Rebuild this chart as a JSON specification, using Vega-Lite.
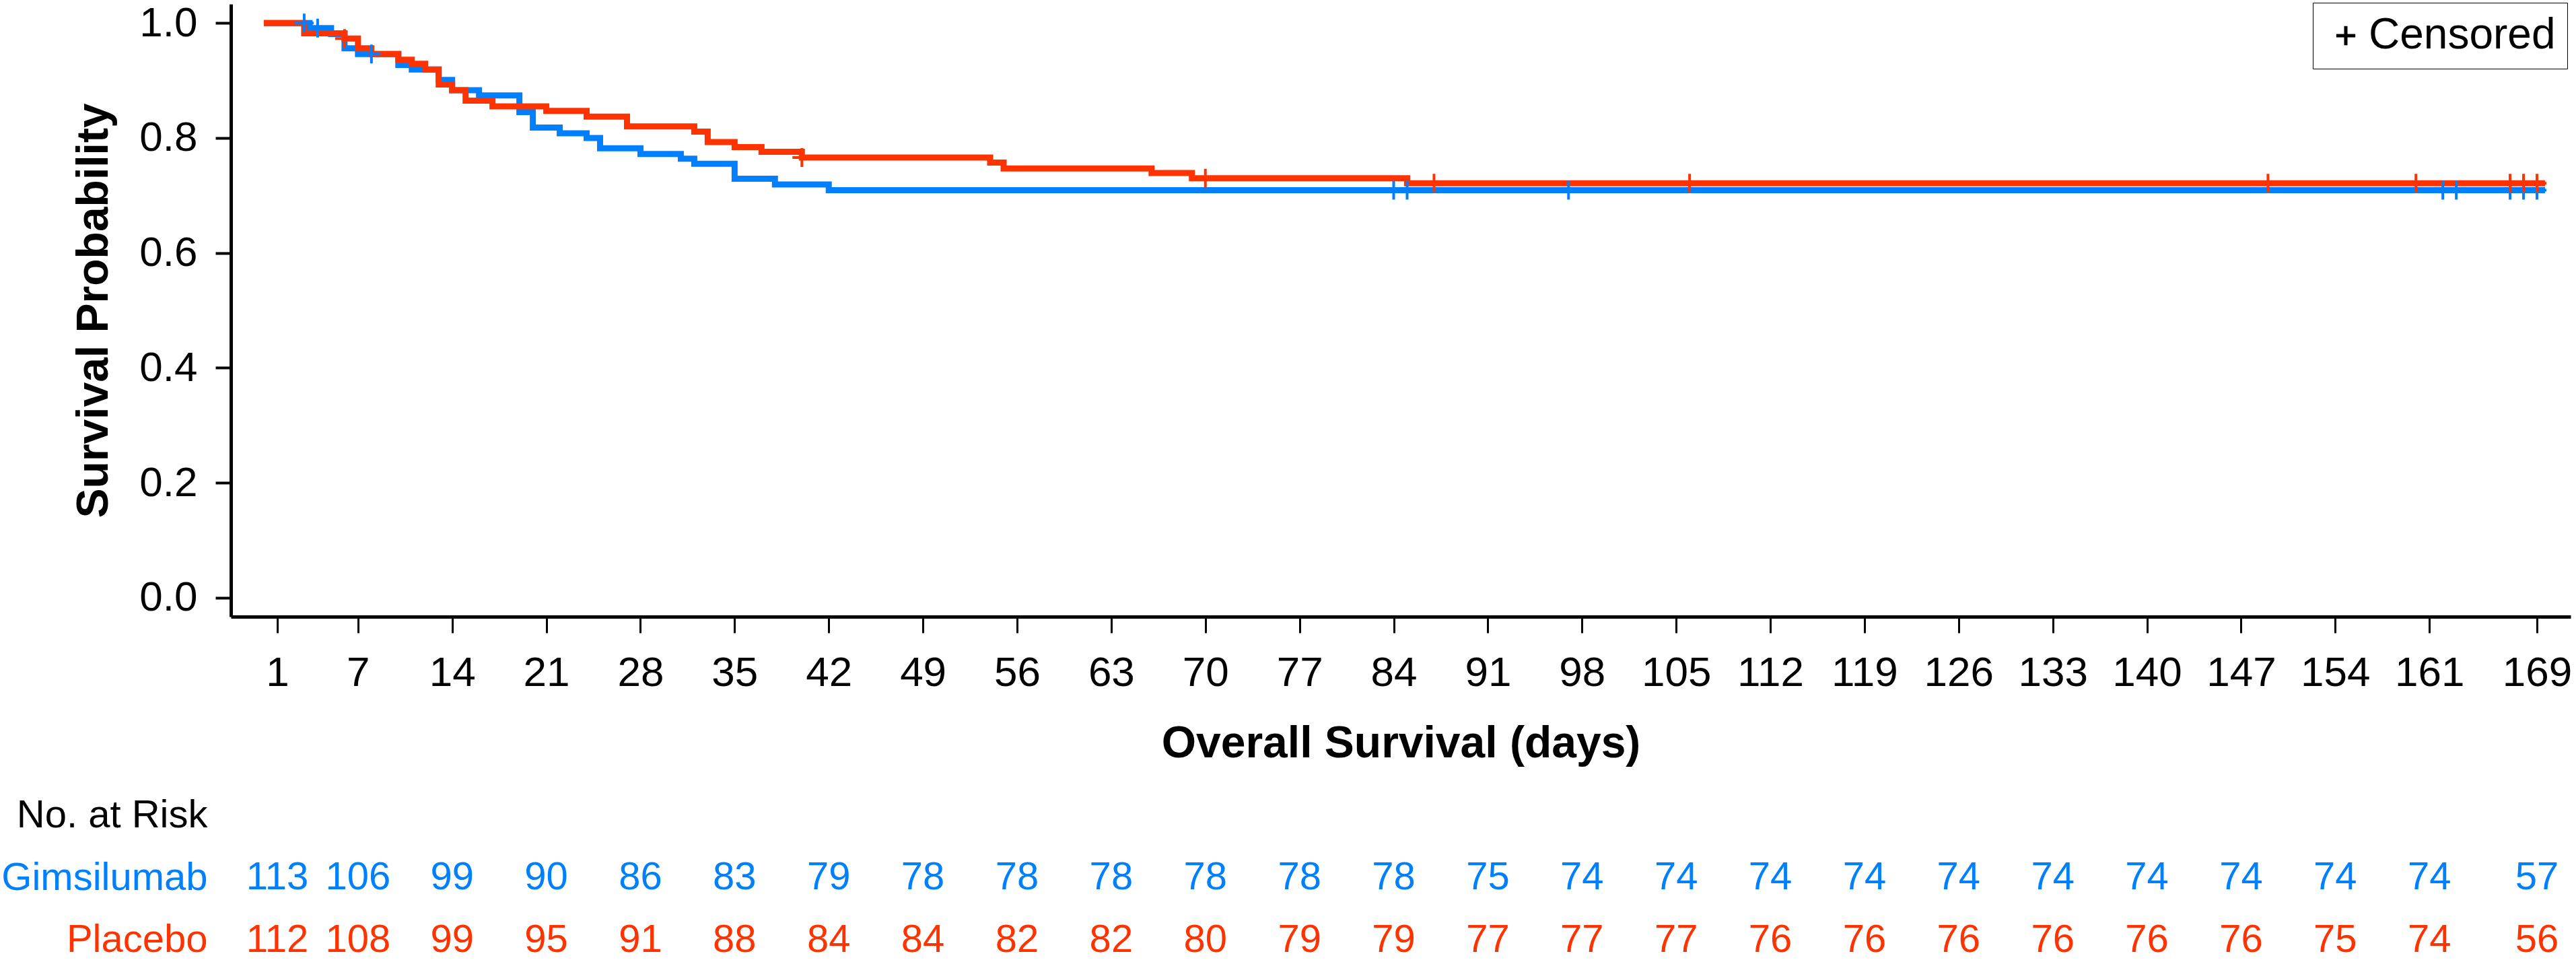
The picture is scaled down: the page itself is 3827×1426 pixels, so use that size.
{
  "$schema": "https://vega.github.io/schema/vega-lite/v6.json",
  "padding": {"left": 1, "top": 3, "right": 0, "bottom": 0},
  "background": "white",
  "spacing": 45,
  "config": {
    "view": {"stroke": null},
    "font": "Liberation Sans",
    "axis": {"grid": false, "domainColor": "black", "tickColor": "black", "labelColor": "black", "titleColor": "black", "labelFont": "Liberation Sans", "titleFont": "Liberation Sans", "labelLimit": 600}
  },
  "datasets": {
    "curves": [
      {"group": "Gimsilumab", "day": 0, "surv": 1.0},
      {"group": "Gimsilumab", "day": 3.4, "surv": 0.991},
      {"group": "Gimsilumab", "day": 5, "surv": 0.981},
      {"group": "Gimsilumab", "day": 6, "surv": 0.956},
      {"group": "Gimsilumab", "day": 7, "surv": 0.946},
      {"group": "Gimsilumab", "day": 10, "surv": 0.927},
      {"group": "Gimsilumab", "day": 11, "surv": 0.919},
      {"group": "Gimsilumab", "day": 13, "surv": 0.901},
      {"group": "Gimsilumab", "day": 14, "surv": 0.883},
      {"group": "Gimsilumab", "day": 16, "surv": 0.874},
      {"group": "Gimsilumab", "day": 19, "surv": 0.845},
      {"group": "Gimsilumab", "day": 20, "surv": 0.818},
      {"group": "Gimsilumab", "day": 22, "surv": 0.808},
      {"group": "Gimsilumab", "day": 24, "surv": 0.8},
      {"group": "Gimsilumab", "day": 25, "surv": 0.782},
      {"group": "Gimsilumab", "day": 28, "surv": 0.772},
      {"group": "Gimsilumab", "day": 31, "surv": 0.764},
      {"group": "Gimsilumab", "day": 32, "surv": 0.755},
      {"group": "Gimsilumab", "day": 35, "surv": 0.729},
      {"group": "Gimsilumab", "day": 38, "surv": 0.719},
      {"group": "Gimsilumab", "day": 42, "surv": 0.709},
      {"group": "Gimsilumab", "day": 169.6, "surv": 0.709},
      {"group": "Placebo", "day": 0, "surv": 1.0},
      {"group": "Placebo", "day": 3, "surv": 0.982},
      {"group": "Placebo", "day": 6, "surv": 0.973},
      {"group": "Placebo", "day": 7, "surv": 0.956},
      {"group": "Placebo", "day": 8, "surv": 0.946},
      {"group": "Placebo", "day": 10, "surv": 0.936},
      {"group": "Placebo", "day": 11, "surv": 0.929},
      {"group": "Placebo", "day": 12, "surv": 0.919},
      {"group": "Placebo", "day": 13, "surv": 0.893},
      {"group": "Placebo", "day": 14, "surv": 0.883},
      {"group": "Placebo", "day": 15, "surv": 0.865},
      {"group": "Placebo", "day": 17, "surv": 0.855},
      {"group": "Placebo", "day": 21, "surv": 0.847},
      {"group": "Placebo", "day": 24, "surv": 0.837},
      {"group": "Placebo", "day": 27, "surv": 0.82},
      {"group": "Placebo", "day": 32, "surv": 0.811},
      {"group": "Placebo", "day": 33, "surv": 0.793},
      {"group": "Placebo", "day": 35, "surv": 0.784},
      {"group": "Placebo", "day": 37, "surv": 0.776},
      {"group": "Placebo", "day": 40, "surv": 0.766},
      {"group": "Placebo", "day": 54, "surv": 0.757},
      {"group": "Placebo", "day": 55, "surv": 0.747},
      {"group": "Placebo", "day": 66, "surv": 0.739},
      {"group": "Placebo", "day": 69, "surv": 0.73},
      {"group": "Placebo", "day": 85, "surv": 0.721},
      {"group": "Placebo", "day": 169.6, "surv": 0.721}
    ],
    "censor": [
      {"group": "Gimsilumab", "day": 3, "surv": 1.0},
      {"group": "Gimsilumab", "day": 4, "surv": 0.991},
      {"group": "Gimsilumab", "day": 8, "surv": 0.946},
      {"group": "Gimsilumab", "day": 84, "surv": 0.709},
      {"group": "Gimsilumab", "day": 85, "surv": 0.709},
      {"group": "Gimsilumab", "day": 97, "surv": 0.709},
      {"group": "Gimsilumab", "day": 162, "surv": 0.709},
      {"group": "Gimsilumab", "day": 163, "surv": 0.709},
      {"group": "Gimsilumab", "day": 167, "surv": 0.709},
      {"group": "Gimsilumab", "day": 168, "surv": 0.709},
      {"group": "Gimsilumab", "day": 169, "surv": 0.709},
      {"group": "Placebo", "day": 6, "surv": 0.973},
      {"group": "Placebo", "day": 40, "surv": 0.766},
      {"group": "Placebo", "day": 70, "surv": 0.73},
      {"group": "Placebo", "day": 87, "surv": 0.721},
      {"group": "Placebo", "day": 106, "surv": 0.721},
      {"group": "Placebo", "day": 149, "surv": 0.721},
      {"group": "Placebo", "day": 160, "surv": 0.721},
      {"group": "Placebo", "day": 167, "surv": 0.721},
      {"group": "Placebo", "day": 168, "surv": 0.721},
      {"group": "Placebo", "day": 169, "surv": 0.721}
    ],
    "risk": [
      {"group": "Gimsilumab", "day": 1, "n": 113},
      {"group": "Gimsilumab", "day": 7, "n": 106},
      {"group": "Gimsilumab", "day": 14, "n": 99},
      {"group": "Gimsilumab", "day": 21, "n": 90},
      {"group": "Gimsilumab", "day": 28, "n": 86},
      {"group": "Gimsilumab", "day": 35, "n": 83},
      {"group": "Gimsilumab", "day": 42, "n": 79},
      {"group": "Gimsilumab", "day": 49, "n": 78},
      {"group": "Gimsilumab", "day": 56, "n": 78},
      {"group": "Gimsilumab", "day": 63, "n": 78},
      {"group": "Gimsilumab", "day": 70, "n": 78},
      {"group": "Gimsilumab", "day": 77, "n": 78},
      {"group": "Gimsilumab", "day": 84, "n": 78},
      {"group": "Gimsilumab", "day": 91, "n": 75},
      {"group": "Gimsilumab", "day": 98, "n": 74},
      {"group": "Gimsilumab", "day": 105, "n": 74},
      {"group": "Gimsilumab", "day": 112, "n": 74},
      {"group": "Gimsilumab", "day": 119, "n": 74},
      {"group": "Gimsilumab", "day": 126, "n": 74},
      {"group": "Gimsilumab", "day": 133, "n": 74},
      {"group": "Gimsilumab", "day": 140, "n": 74},
      {"group": "Gimsilumab", "day": 147, "n": 74},
      {"group": "Gimsilumab", "day": 154, "n": 74},
      {"group": "Gimsilumab", "day": 161, "n": 74},
      {"group": "Gimsilumab", "day": 169, "n": 57},
      {"group": "Placebo", "day": 1, "n": 112},
      {"group": "Placebo", "day": 7, "n": 108},
      {"group": "Placebo", "day": 14, "n": 99},
      {"group": "Placebo", "day": 21, "n": 95},
      {"group": "Placebo", "day": 28, "n": 91},
      {"group": "Placebo", "day": 35, "n": 88},
      {"group": "Placebo", "day": 42, "n": 84},
      {"group": "Placebo", "day": 49, "n": 84},
      {"group": "Placebo", "day": 56, "n": 82},
      {"group": "Placebo", "day": 63, "n": 82},
      {"group": "Placebo", "day": 70, "n": 80},
      {"group": "Placebo", "day": 77, "n": 79},
      {"group": "Placebo", "day": 84, "n": 79},
      {"group": "Placebo", "day": 91, "n": 77},
      {"group": "Placebo", "day": 98, "n": 77},
      {"group": "Placebo", "day": 105, "n": 77},
      {"group": "Placebo", "day": 112, "n": 76},
      {"group": "Placebo", "day": 119, "n": 76},
      {"group": "Placebo", "day": 126, "n": 76},
      {"group": "Placebo", "day": 133, "n": 76},
      {"group": "Placebo", "day": 140, "n": 76},
      {"group": "Placebo", "day": 147, "n": 76},
      {"group": "Placebo", "day": 154, "n": 75},
      {"group": "Placebo", "day": 161, "n": 74},
      {"group": "Placebo", "day": 169, "n": 56}
    ]
  },
  "vconcat": [
    {
      "width": 3476,
      "height": 910,
      "layer": [
        {
          "data": {"name": "curves"},
          "mark": {"type": "line", "interpolate": "step-after", "strokeWidth": 9, "strokeCap": "butt", "strokeJoin": "miter"},
          "encoding": {
            "x": {
              "field": "day", "type": "quantitative",
              "scale": {"domain": [-2.45, 171.5], "nice": false, "zero": false},
              "axis": {"values": [1, 7, 14, 21, 28, 35, 42, 49, 56, 63, 70, 77, 84, 91, 98, 105, 112, 119, 126, 133, 140, 147, 154, 161, 169], "labelFontSize": 62, "tickSize": 24, "tickWidth": 3, "domainWidth": 5, "labelPadding": 29, "labelFlush": false, "labelOverlap": false, "titleFontSize": 66, "titleFontWeight": "bold", "titlePadding": 42},
              "title": "Overall Survival (days)"
            },
            "y": {
              "field": "surv", "type": "quantitative",
              "scale": {"domain": [-0.033, 1.033], "nice": false, "zero": false},
              "axis": {"values": [0, 0.2, 0.4, 0.6, 0.8, 1.0], "format": ".1f", "labelFontSize": 62, "tickSize": 23, "tickWidth": 4, "domainWidth": 5, "labelPadding": 27, "titleFontSize": 66, "titleFontWeight": "bold", "titlePadding": 33},
              "title": "Survival Probability"
            },
            "color": {"field": "group", "type": "nominal", "scale": {"domain": ["Gimsilumab", "Placebo"], "range": ["#0080FF", "#FF3300"]}, "legend": null}
          }
        },
        {
          "data": {"name": "censor"},
          "mark": {"type": "point", "filled": false, "strokeWidth": 4, "size": 784, "opacity": 1},
          "encoding": {
            "x": {"field": "day", "type": "quantitative"},
            "y": {"field": "surv", "type": "quantitative"},
            "color": {"field": "group", "type": "nominal", "legend": null},
            "shape": {
              "datum": "Censored", "type": "nominal",
              "scale": {"domain": ["Censored"], "range": ["M-1,0H1M0,-1V1"]},
              "legend": {"title": null, "orient": "none", "legendX": 3093, "legendY": -2, "strokeColor": "black", "padding": 17, "labelFontSize": 64, "labelFont": "Liberation Sans", "labelColor": "black", "labelLimit": 800, "symbolStrokeColor": "black", "symbolStrokeWidth": 5, "symbolSize": 800, "symbolFillColor": "transparent", "symbolOpacity": 1, "labelOffset": 2,
                "encode": {"legend": {"stroke": {"value": "black"}, "strokeWidth": {"value": 4}}}}
            }
          }
        }
      ]
    },
    {
      "width": 3476,
      "height": 226,
      "data": {"name": "risk"},
      "mark": {"type": "text", "fontSize": 58, "font": "Liberation Sans", "baseline": "middle", "align": "center"},
      "encoding": {
        "x": {"field": "day", "type": "quantitative", "scale": {"domain": [-2.45, 171.5], "nice": false, "zero": false}, "axis": null},
        "y": {
          "field": "group", "type": "nominal",
          "scale": {"type": "point", "domain": ["No. at Risk", "Gimsilumab", "Placebo"], "padding": 0.22},
          "axis": {"title": null, "domain": false, "ticks": false, "tickSize": 0, "labelPadding": 35, "labelFontSize": 58, "labelLimit": 800, "labelColor": {"condition": [{"test": "datum.value === 'Gimsilumab'", "value": "#0080FF"}, {"test": "datum.value === 'Placebo'", "value": "#FF3300"}], "value": "black"}}
        },
        "text": {"field": "n", "type": "quantitative"},
        "color": {"field": "group", "type": "nominal", "scale": {"domain": ["Gimsilumab", "Placebo"], "range": ["#0080FF", "#FF3300"]}, "legend": null}
      }
    }
  ]
}
